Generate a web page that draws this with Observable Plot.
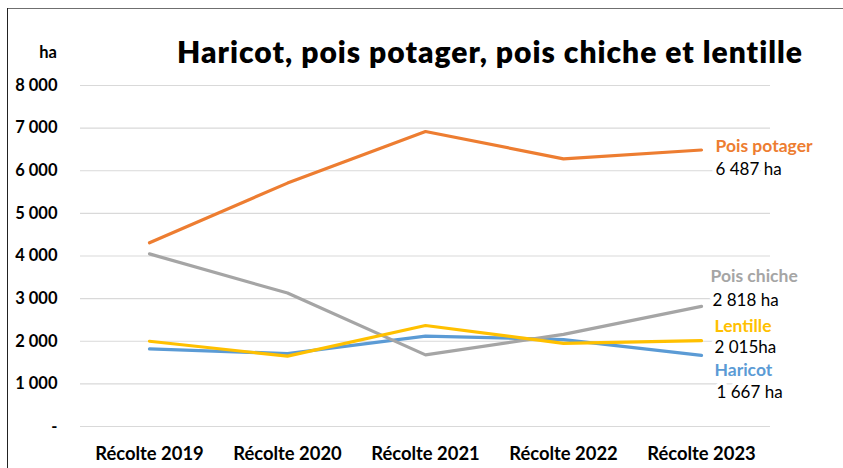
<!DOCTYPE html>
<html>
<head>
<meta charset="utf-8">
<script src="https://cdn.jsdelivr.net/npm/d3@7"></script>
<script src="https://cdn.jsdelivr.net/npm/@observablehq/plot@0.6"></script>
<style>
  html, body { margin: 0; padding: 0; background: #fff; }
  #wrap { position: relative; width: 843px; height: 468px; overflow: hidden; font-family: Lato, "Open Sans", sans-serif; }
  #title { position: absolute; left: 0; width: 980px; top: 33px; text-align: center; font-size: 30px; font-weight: 800; letter-spacing: 1px; color: #000; white-space: nowrap; }
  #unit { position: absolute; right: 786px; top: 42px; font-size: 16.5px; font-weight: 700; color: #000; }
  #btop { position: absolute; left: 7px; top: 8px; right: 0; height: 0; border-top: 1.5px solid #6f6f6f; }
  #bleft { position: absolute; left: 7px; top: 8px; bottom: 0; width: 0; border-left: 1.5px solid #222; }
  #chart { position: absolute; left: 0; top: 0; }
</style>
</head>
<body>
<div id="wrap">
  <div id="chart"></div>
  <div id="btop"></div>
  <div id="bleft"></div>
  <div id="title">Haricot, pois potager, pois chiche et lentille</div>
  <div id="unit">ha</div>
</div>
<script>
const categories = ["Récolte 2019", "Récolte 2020", "Récolte 2021", "Récolte 2022", "Récolte 2023"];
const seriesNames = ["Haricot", "Pois potager", "Pois chiche", "Lentille"];
const seriesColors = ["#5B9BD5", "#ED7D31", "#A5A5A5", "#FFC000"];
const haricot = [1820, 1710, 2120, 2040, 1667];
const poisPotager = [4310, 5710, 6920, 6280, 6487];
const poisChiche = [4050, 3130, 1680, 2160, 2818];
const lentille = [2000, 1650, 2370, 1950, 2015];
const yTicks = [0, 1000, 2000, 3000, 4000, 5000, 6000, 7000, 8000];
const endValueLabels = ["1 667 ha", "6 487 ha", "2 818 ha", "2 015ha"];

const seriesValues = [haricot, poisPotager, poisChiche, lentille];
const data = [];
seriesNames.forEach((s, i) => categories.forEach((c, j) => data.push({series: s, cat: c, value: seriesValues[i][j]})));

const ends = seriesNames.map((s, i) => ({series: s, cat: categories[categories.length - 1], value: seriesValues[i][categories.length - 1], label: endValueLabels[i]}));
// per-series label offsets (style only)
const nameDy = {"Haricot": 15, "Pois potager": -4, "Pois chiche": -30, "Lentille": -14};
const valDy = {"Haricot": 37, "Pois potager": 20, "Pois chiche": -6, "Lentille": 7};
const nameDx = {"Haricot": 13, "Pois potager": 14, "Pois chiche": 9, "Lentille": 13};
const valDx = {"Haricot": 15, "Pois potager": 14, "Pois chiche": 11, "Lentille": 13};

const fmt = d => d === 0 ? "-" : d3.format(",")(d).replace(/,/g, " ");

const textMarks = [];
ends.forEach(e => {
  textMarks.push(Plot.text([e], {x: "cat", y: "value", text: d => d.series, dx: nameDx[e.series], dy: nameDy[e.series], textAnchor: "start", fill: seriesColors[seriesNames.indexOf(e.series)], stroke: "white", strokeWidth: 8, fontSize: 17.5, fontWeight: 700, letterSpacing: "0.3px"}));
  textMarks.push(Plot.text([e], {x: "cat", y: "value", text: "label", dx: valDx[e.series], dy: valDy[e.series], textAnchor: "start", fill: "#000", stroke: "white", strokeWidth: 8, fontSize: 17, letterSpacing: "0.3px"}));
});

const chart = Plot.plot({
  width: 843,
  height: 468,
  marginLeft: 80,
  marginRight: 73,
  marginTop: 85,
  marginBottom: 42,
  style: {fontFamily: "Lato, 'Open Sans', sans-serif", background: "transparent", overflow: "visible"},
  x: {type: "point", domain: categories, padding: 0.5, label: null},
  y: {domain: [0, 8000], label: null},
  color: {domain: seriesNames, range: seriesColors},
  marks: [
    Plot.gridY(yTicks, {stroke: "#d9d9d9", strokeOpacity: 1, strokeWidth: 1.2}),
    Plot.axisY(yTicks, {tickSize: 0, tickPadding: 23, tickFormat: fmt, fontSize: 16.5, fontWeight: 700, fill: "#000", label: null}),
    Plot.axisX({tickSize: 0, tickPadding: 20, fontSize: 18.4, fontWeight: 700, fill: "#000", label: null}),
    Plot.line(data, {x: "cat", y: "value", z: "series", stroke: "series", strokeWidth: 3.2, strokeLinecap: "round", strokeLinejoin: "round"}),
    ...textMarks
  ]
});
document.getElementById("chart").appendChild(chart);
</script>
</body>
</html>
